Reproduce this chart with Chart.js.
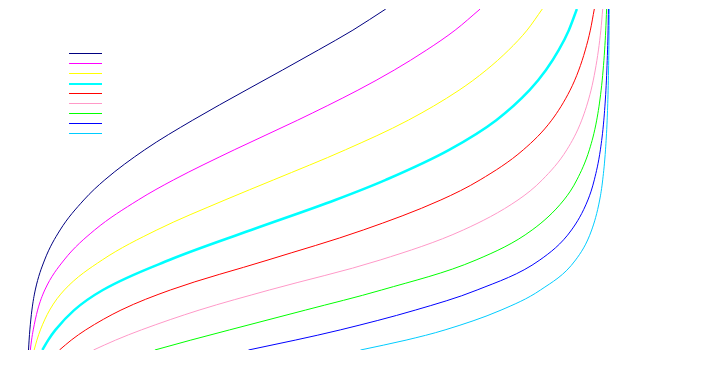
<!DOCTYPE html>
<html>
<head>
<meta charset="utf-8">
<script src="https://cdn.jsdelivr.net/npm/chart.js@4"></script>
<style>
  body { margin: 0; background: #ffffff; }
</style>
</head>
<body>
<canvas id="myChart" width="726" height="370"></canvas>
<script>
// heights shared by every curve (bottom of the plot = 0, top = 100)
const yLevels = [0, 2.9, 5.9, 11.7, 17.6, 26.4, 35.2, 44.0, 49.9, 58.7, 67.4, 76.2, 82.1, 88.0, 93.8, 100];

// x position (0..1) of each curve at those heights
const navyX = [0.0026, 0.0036, 0.0049, 0.0084, 0.0142, 0.0302, 0.0568, 0.0975, 0.1335, 0.2018, 0.2843, 0.3757, 0.4383, 0.5, 0.559, 0.6154];
const magentaX = [0.0057, 0.0078, 0.0107, 0.0182, 0.0305, 0.0636, 0.1161, 0.1908, 0.2516, 0.3555, 0.4643, 0.5676, 0.63, 0.6857, 0.7344, 0.7773];
const yellowX = [0.0123, 0.017, 0.023, 0.0388, 0.0641, 0.129, 0.2227, 0.3396, 0.4231, 0.5461, 0.6541, 0.7412, 0.7878, 0.8264, 0.8578, 0.8839];
const cyanX = [0.0263, 0.0363, 0.0488, 0.0809, 0.1301, 0.2441, 0.3846, 0.5287, 0.6154, 0.7241, 0.8049, 0.862, 0.8902, 0.9122, 0.9294, 0.9432];
const redX = [0.0557, 0.0759, 0.1007, 0.1611, 0.246, 0.4134, 0.5769, 0.7099, 0.7773, 0.8513, 0.9, 0.9316, 0.9465, 0.9577, 0.9663, 0.9731];
const pinkX = [0.1141, 0.1519, 0.1962, 0.2952, 0.4158, 0.6059, 0.7484, 0.8422, 0.8839, 0.9259, 0.9515, 0.9675, 0.9747, 0.9802, 0.9843, 0.9875];
const greenX = [0.2193, 0.2809, 0.3475, 0.4775, 0.6083, 0.7703, 0.8665, 0.9209, 0.9432, 0.9646, 0.9772, 0.9848, 0.9882, 0.9908, 0.9927, 0.9942];
const blueX = [0.3799, 0.4601, 0.5374, 0.666, 0.7721, 0.8797, 0.934, 0.9621, 0.9731, 0.9835, 0.9894, 0.993, 0.9946, 0.9958, 0.9967, 0.9973];
const skyX = [0.572, 0.6502, 0.7171, 0.8131, 0.8808, 0.941, 0.9686, 0.9823, 0.9875, 0.9923, 0.9951, 0.9968, 0.9975, 0.9981, 0.9985, 0.9988];

const series = [
  { xs: navyX, color: "#000080", width: 1 },
  { xs: magentaX, color: "#ff00ff", width: 1 },
  { xs: yellowX, color: "#ffff00", width: 1 },
  { xs: cyanX, color: "#00ffff", width: 2.5 },
  { xs: redX, color: "#ff0000", width: 1 },
  { xs: pinkX, color: "#ff99c8", width: 1 },
  { xs: greenX, color: "#00ff00", width: 1 },
  { xs: blueX, color: "#0000ff", width: 1 },
  { xs: skyX, color: "#00ccff", width: 1 },
];

// small legend in the top-left: just a short line per curve, no text
const lineLegend = {
  id: "lineLegend",
  afterDraw(chart) {
    const ctx = chart.ctx;
    ctx.save();
    chart.data.datasets.forEach((ds, i) => {
      const y = ds.borderWidth > 1 ? 84 : 53.5 + i * 10;
      ctx.strokeStyle = ds.borderColor;
      ctx.lineWidth = ds.borderWidth > 1 ? 2 : 1;
      ctx.beginPath();
      ctx.moveTo(69, y);
      ctx.lineTo(102, y);
      ctx.stroke();
    });
    ctx.restore();
  },
};

new Chart("myChart", {
  type: "scatter",
  data: {
    datasets: series.map((s) => ({
      label: "",
      data: s.xs.map((x, j) => ({ x: x, y: yLevels[j] })),
      showLine: true,
      borderColor: s.color,
      borderWidth: s.width,
      pointRadius: 0,
      cubicInterpolationMode: "monotone",
      fill: false,
    })),
  },
  options: {
    responsive: false,
    animation: false,
    layout: { padding: { left: 27, right: 116, top: 9, bottom: 20 } },
    scales: {
      x: { type: "linear", min: 0, max: 1, display: false },
      y: { type: "linear", min: 0, max: 100, display: false },
    },
    plugins: {
      legend: { display: false },
      tooltip: { enabled: false },
    },
  },
  plugins: [lineLegend],
});
</script>
</body>
</html>
